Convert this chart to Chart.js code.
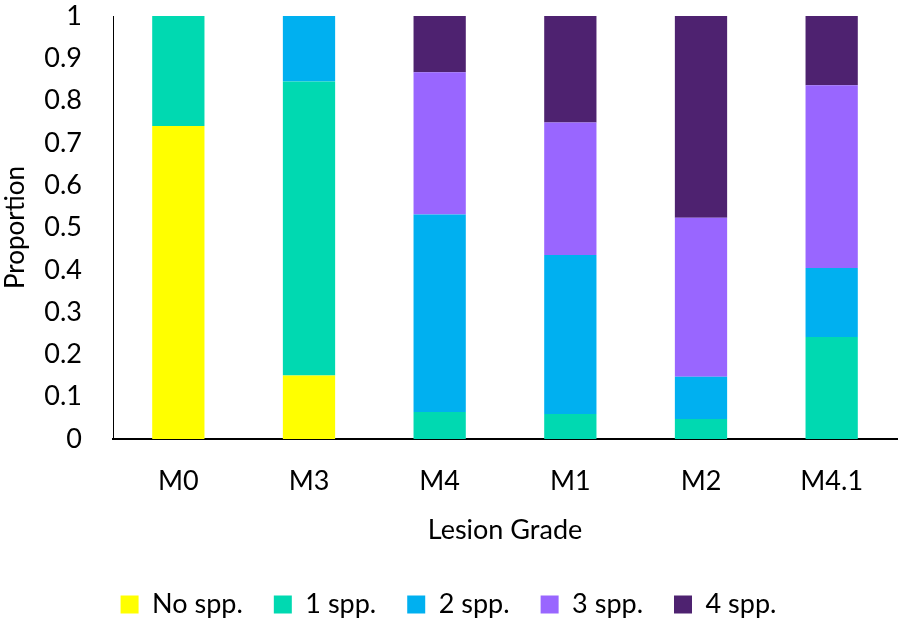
<!DOCTYPE html>
<html>
<head>
<meta charset="utf-8">
<script src="https://cdn.jsdelivr.net/npm/chart.js@4.4.1/dist/chart.umd.min.js"></script>
<style>
  html,body{margin:0;padding:0;background:#fff;}
  #wrap{width:898px;height:628px;position:relative;}
</style>
</head>
<body>
<div id="wrap"><canvas id="c" width="898" height="628"></canvas></div>
<script>
const grades = ["M0","M3","M4","M1","M2","M4.1"];
const noSpp   = [0.74, 0.15, 0,     0,     0,     0];
const oneSpp  = [0.26, 0.695, 0.064, 0.059, 0.047, 0.241];
const twoSpp  = [0,    0.155, 0.467, 0.376, 0.100, 0.163];
const threeSpp= [0,    0,     0.336, 0.313, 0.376, 0.432];
const fourSpp = [0,    0,     0.133, 0.252, 0.477, 0.164];
const yTicks  = [0,0.1,0.2,0.3,0.4,0.5,0.6,0.7,0.8,0.9,1];

(function(){
  const FONT = "Lato";
  Chart.defaults.font.family = FONT;
  Chart.defaults.color = "#000";

  function ds(label, data, color){
    return { label, data, backgroundColor: color, borderWidth: 0,
             barPercentage: 0.4, categoryPercentage: 1.0 };
  }

  new Chart(document.getElementById("c").getContext("2d"), {
    type: "bar",
    data: {
      labels: grades,
      datasets: [
        ds("No spp.", noSpp,    "#FFFF00"),
        ds("1 spp.",  oneSpp,   "#00D9B1"),
        ds("2 spp.",  twoSpp,   "#00B0F0"),
        ds("3 spp.",  threeSpp, "#9966FF"),
        ds("4 spp.",  fourSpp,  "#4E2270")
      ]
    },
    options: {
      responsive: false,
      animation: false,
      layout: { padding: { top: 1, right: 1, left: 0, bottom: 0 } },
      plugins: {
        tooltip: { enabled: false },
        legend: {
          position: "bottom",
          labels: { boxWidth: 18, boxHeight: 18, padding: 31, font: { size: 27 } }
        }
      },
      scales: {
        x: {
          stacked: true,
          grid: { display: false, drawTicks: false },
          border: { color: "#000", width: 2 },
          ticks: { font: { size: 27 }, padding: 26 },
          title: { display: true, text: "Lesion Grade", font: { size: 27 }, padding: { top: 4, bottom: 14 } },
          afterFit: s => { s.height = 121; }
        },
        y: {
          stacked: true,
          min: 0, max: 1,
          afterBuildTicks: s => { s.ticks = yTicks.map(v => ({ value: v })); },
          grid: { display: false, drawTicks: false },
          border: { color: "#000", width: 1 },
          ticks: { font: { size: 27 }, padding: 31,
                   callback: v => String(v) },
          title: { display: true, text: "Proportion", font: { size: 26 }, padding: 0 },
          afterFit: s => { s.width = 113; s.paddingTop = 16; s.paddingBottom = 0; }
        }
      }
    }
  });
})();
</script>
</body>
</html>
